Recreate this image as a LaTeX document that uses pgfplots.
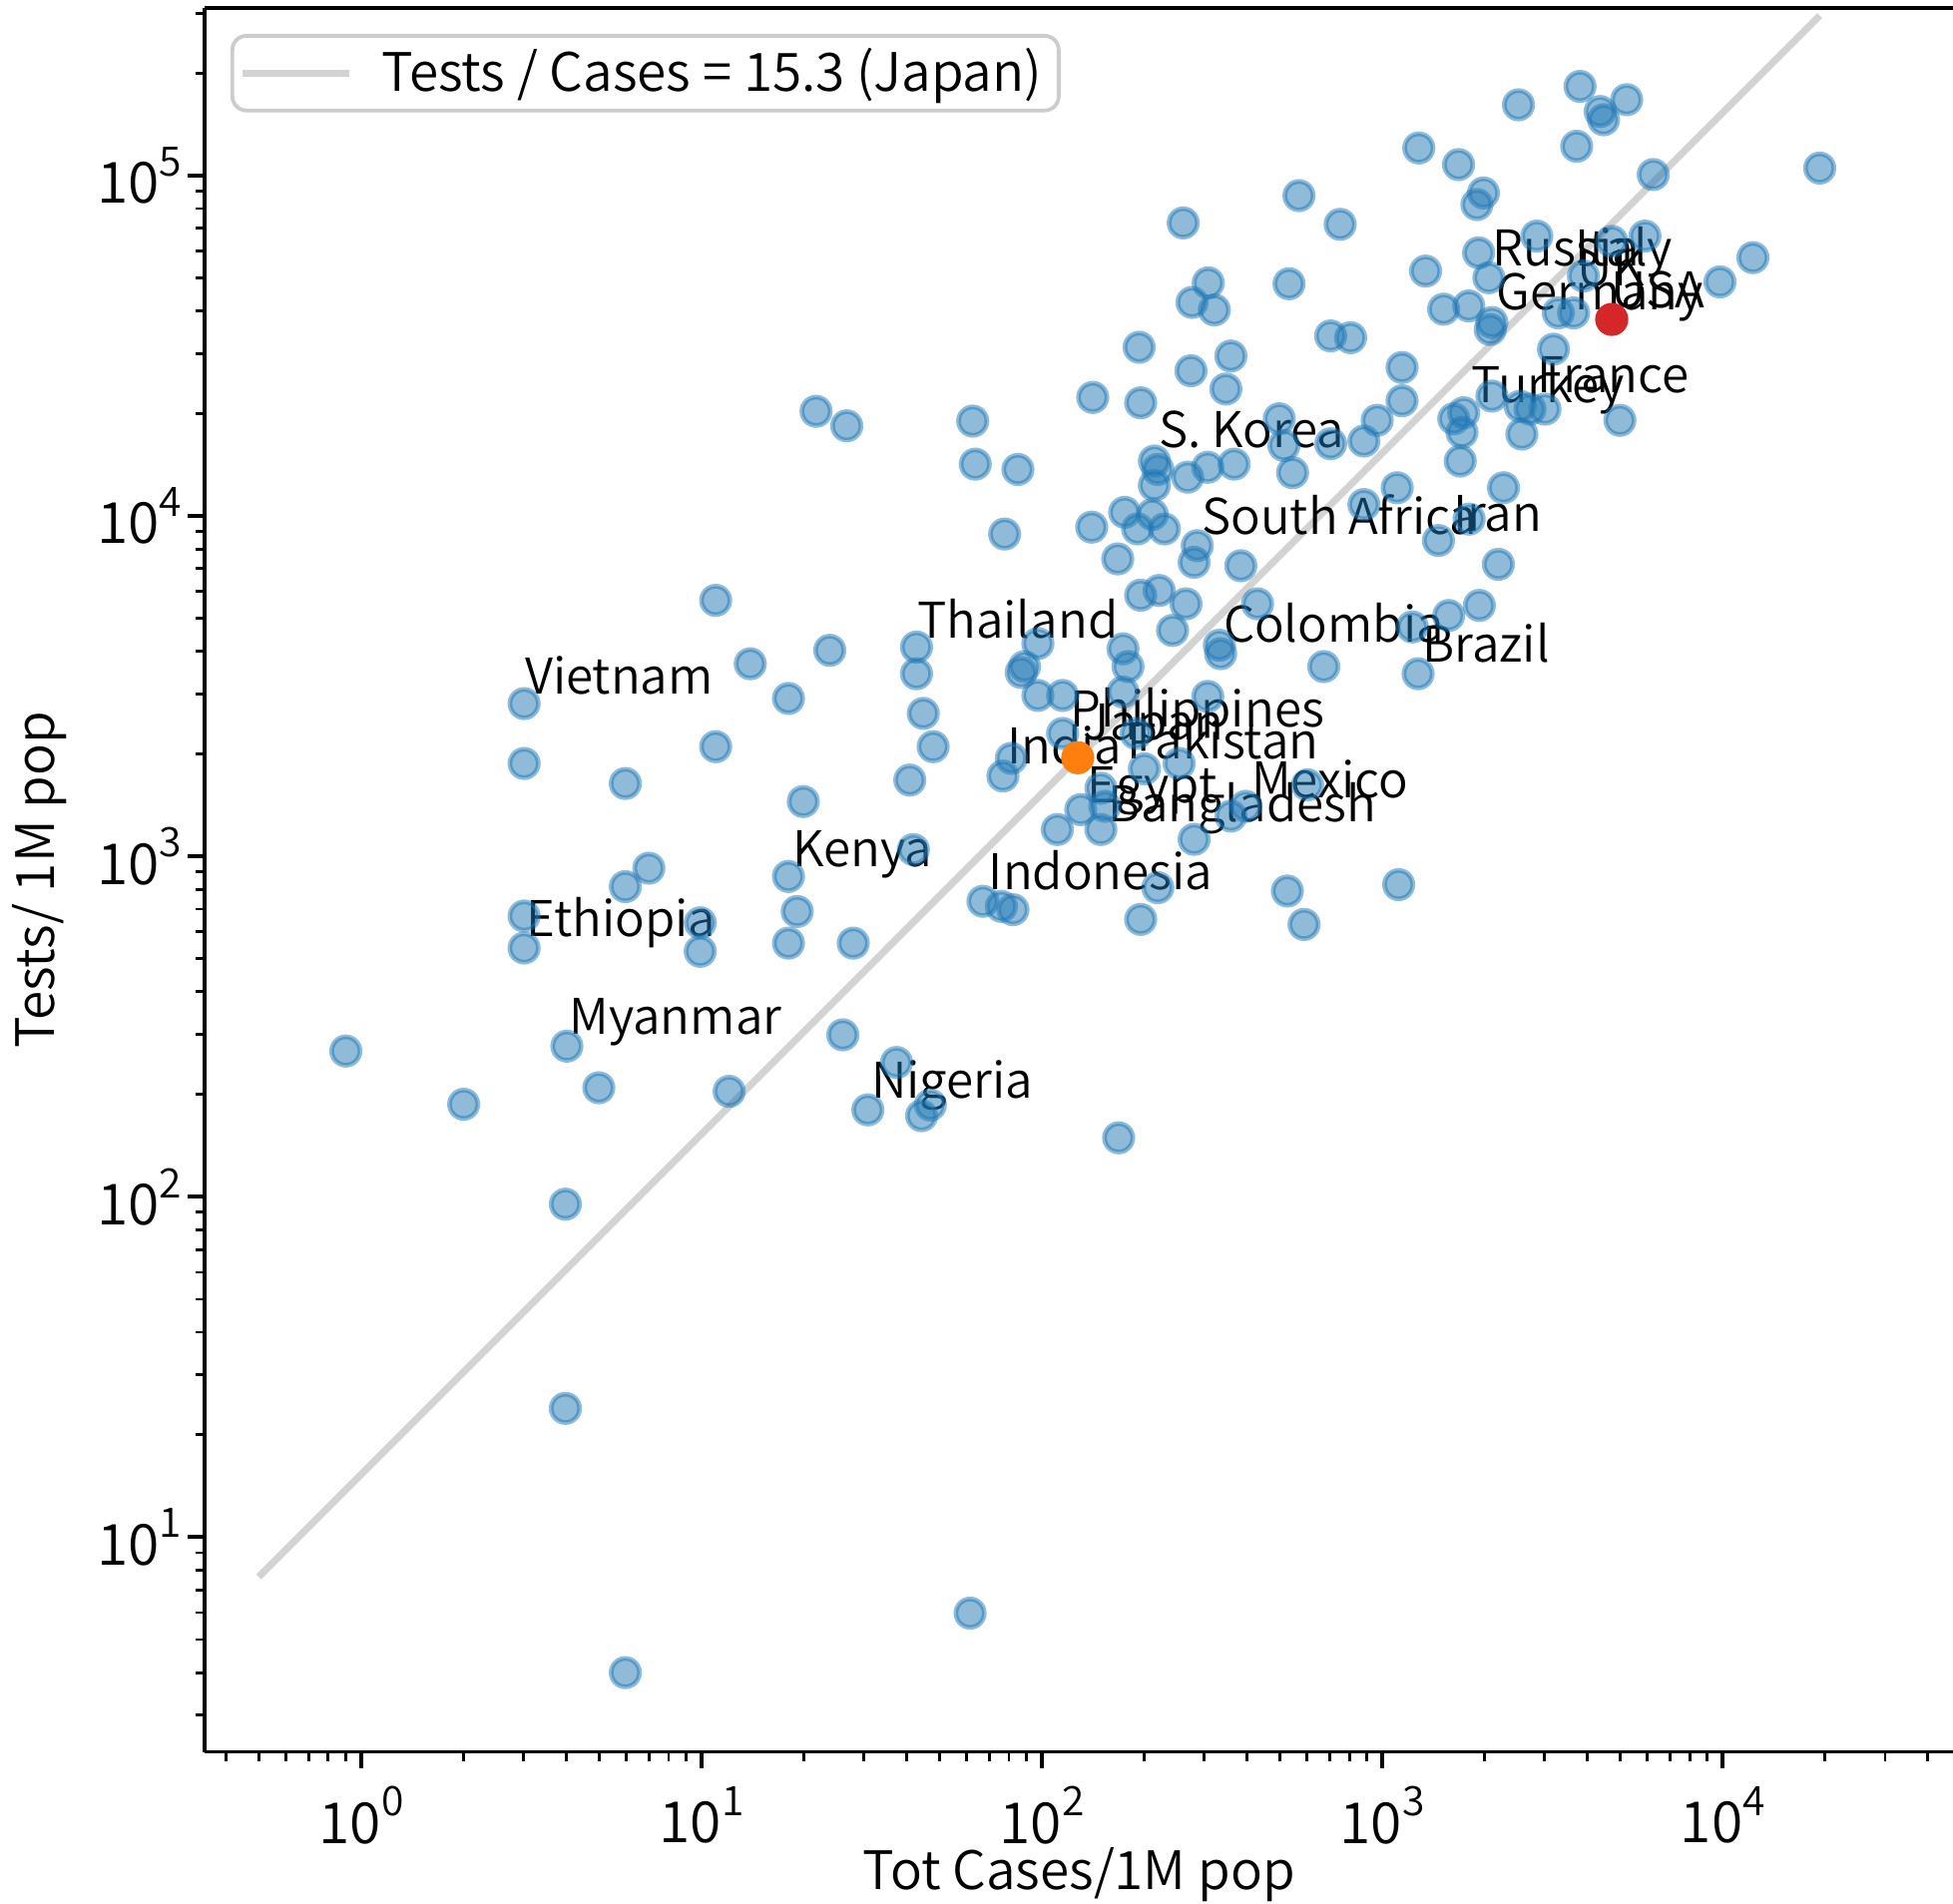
\documentclass[border=0pt]{standalone}
\usepackage{fontspec}
\IfFontExistsTF{Noto Sans CJK JP DemiLight}{\setmainfont{Noto Sans CJK JP DemiLight}}{\setmainfont{Noto Sans CJK JP}}
\usepackage{pgfplots}
\usepackage{pgfplotstable}
\pgfplotsset{compat=1.18}
\usetikzlibrary{calc}
\definecolor{c0}{HTML}{1F77B4}
\definecolor{cred}{HTML}{D62728}
\definecolor{corange}{HTML}{FF7F0E}
\definecolor{lgray}{HTML}{D3D3D3}
\newcommand\pw[1]{10\raisebox{0.48em}{\fontsize{8.6}{9}\selectfont #1}}

\pgfplotstableread{
x y
3810 182800
2512 161400
5224 167100
4365 154200
4467 145900
3724 121900
1280 120500
1675 107700
19280 105200
6252 100700
1982 88900
1897 82200
569 87300
260 72600
752 71900
2844 66400
5912 66400
4721 64100
1919 59300
12270 57400
1340 52400
308 48400
532 48100
2056 50100
3899 50700
9817 48700
276 42400
321 40300
1514 40500
1795 41400
2099 37000
2075 35300
3289 39500
3648 39500
705 33800
807 33400
193 31300
359 29500
3184 30900
1143 27300
274 26700
347 23600
2099 22500
141 22300
195 21500
1143 21800
2541 21000
2716 20600
3006 20600
1622 19300
1734 20100
1714 17600
2570 17400
4989 19100
966 19100
498 19300
514 16100
705 16300
883 16600
1694 14500
545 13400
214 14500
219 13700
214 12300
268 13000
307 13900
367 14200
85.0 13700
63.7 14200
62.6 19000
21.7 20300
26.7 18400
1106 12100
2270 12100
883 10800
1462 8470
1799 9790
77.7 8850
175 10250
211 10100
191 9160
229 9160
140 9270
286 8180
280 7310
167 7480
384 7140
2193 7210
195 5850
221 6040
265 5520
430 5520
1928 5460
1567 5100
11.0 5650
242 4610
332 4170
335 3940
1225 4720
1274 3440
673 3610
173 4070
179 3610
97.3 4220
88.9 3610
86.9 3470
97.3 2970
115 2970
173 3040
307 2950
42.8 4120
42.8 3440
23.8 4030
13.9 3680
18.0 2910
44.8 2630
47.9 2100
11.0 2100
40.9 1675
19.9 1449
3.01 2810
3.01 1875
5.97 1637
115 2296
189 2296
200 1808
253 1875
81.3 1941
76.8 1722
149 1585
130 1372
153 1403
149 1199
111 1199
280 1122
359 1313
397 1403
603 1622
219 809
195 653
526 791
589 631
1117 826
67.1 738
76.0 713
82.2 697
41.9 1047
18.0 873
19.1 689
18.0 556
27.9 556
9.91 638
9.91 526
7.0 923
5.97 815
3.01 668
3.01 538
0.901 268
4.02 277
2.0 187
4.99 209
12.05 204
26.0 299
37.4 248
47.0 186
44.3 173
30.8 180
168 149
3.98 95.1
3.98 23.9
61.5 5.98
5.97 4.0
}\countries

\begin{document}
\fontsize{11}{13.2}\selectfont
\begin{tikzpicture}
\begin{axis}[
  name=ax,
  scale only axis, width=369.6pt, height=368.6pt,
  xmode=log, ymode=log,
  xmin=0.3466, xmax=47500, ymin=2.34, ymax=310100,
  axis x line=box, axis y line=left,
  x axis line style={-}, y axis line style={-},
  axis line style={line width=0.8pt},
  xtick pos=left, ytick pos=left,
  tick align=outside,
  major tick length=3.5pt, minor tick length=2pt,
  every major tick/.append style={line width=0.8pt, black},
  every minor tick/.append style={line width=0.6pt, black},
  xtick={1,10,100,1000,10000},
  xticklabels={\pw{0},\pw{1},\pw{2},\pw{3},\pw{4}},
  ytick={10,100,1000,10000,100000},
  yticklabels={\pw{1},\pw{2},\pw{3},\pw{4},\pw{5}},
  minor xtick={0.4,0.5,0.6,0.7,0.8,0.9,2,3,4,5,6,7,8,9,20,30,40,50,60,70,80,90,200,300,400,500,600,700,800,900,2000,3000,4000,5000,6000,7000,8000,9000,20000,30000,40000},
  minor ytick={3,4,5,6,7,8,9,20,30,40,50,60,70,80,90,200,300,400,500,600,700,800,900,2000,3000,4000,5000,6000,7000,8000,9000,20000,30000,40000,50000,60000,70000,80000,90000,200000,300000},
  tick label style={font=\fontsize{12}{14}\selectfont},
  yticklabel style={xshift=2.5pt},
  xlabel={Tot Cases/1M pop},
  ylabel={Tests/ 1M pop},
  every axis x label/.style={at={(axis description cs:0.5,-0.0787)}, anchor=base},
  every axis y label/.style={at={(axis description cs:-0.0942,0.5)}, rotate=90, anchor=center},
  label style={font=\fontsize{11.2}{13}\selectfont},
  legend style={at={(0.0148,0.9853)}, anchor=north west, draw=black!20, line width=0.8pt,
    rounded corners=3pt, fill=white, fill opacity=0.8, text opacity=1,
    inner xsep=1.5pt, inner ysep=0.5pt, font=\fontsize{11.2}{13}\selectfont},
  legend cell align=left,
  legend image code/.code={\draw[#1] (0pt,0pt) -- (22.4pt,0pt); \path (26.6pt,0pt);},
]
\addplot[only marks, mark=*, mark size=3.0pt,
  mark options={fill=c0, draw=c0, fill opacity=0.5, draw opacity=0.5, line width=1pt},
  forget plot] table[x=x, y=y] {\countries};
\addplot[lgray, line width=1.5pt] coordinates {(0.5,7.65) (19280,294980)};
\addlegendentry{Tests / Cases = 15.3 (Japan)}
\addplot[only marks, mark=*, mark size=3.0pt,
  mark options={fill=cred, draw=cred, line width=1pt}, forget plot] coordinates {(4721,37800)};
\addplot[only marks, mark=*, mark size=3.0pt,
  mark options={fill=corange, draw=corange, line width=1pt}, forget plot] coordinates {(127.4,1949)};
\begin{scope}[every node/.style={anchor=base west, inner sep=0pt, font=\fontsize{10.4}{12}\selectfont}]
\node at (axis cs:2099,54200) {Russia};
\node at (axis cs:3664,54200) {Italy};
\node at (axis cs:3724,47370) {UK};
\node at (axis cs:4667,40930) {USA};
\node at (axis cs:2148,40450) {Germany};
\node at (axis cs:2844,23050) {France};
\node at (axis cs:1814,21540) {Turkey};
\node at (axis cs:218.8,15910) {S. Korea};
\node at (axis cs:293.1,8857) {South Africa};
\node at (axis cs:1604,8985) {Iran};
\node at (axis cs:42.78,4361) {Thailand};
\node at (axis cs:339.4,4263) {Colombia};
\node at (axis cs:1307,3725) {Brazil};
\node at (axis cs:3.008,3008) {Vietnam};
\node at (axis cs:120.4,2402) {Philippines};
\node at (axis cs:131.8,2195) {Japan};
\node at (axis cs:78.6,1875) {India};
\node at (axis cs:176.6,1940) {Pakistan};
\node at (axis cs:134.9,1432) {Egypt};
\node at (axis cs:410.9,1481) {Mexico};
\node at (axis cs:156.1,1265) {Bangladesh};
\node at (axis cs:69.43,797) {Indonesia};
\node at (axis cs:18.40,933) {Kenya};
\node at (axis cs:3.044,582) {Ethiopia};
\node at (axis cs:4.063,299.5) {Myanmar};
\node at (axis cs:31.37,194.4) {Nigeria};
\end{scope}
\end{axis}
\pgfresetboundingbox
\path[use as bounding box] ($(ax.south west)+(-43.25pt,-31.98pt)$) rectangle ($(ax.north east)+(0pt,1.75pt)$);
\end{tikzpicture}
\end{document}
